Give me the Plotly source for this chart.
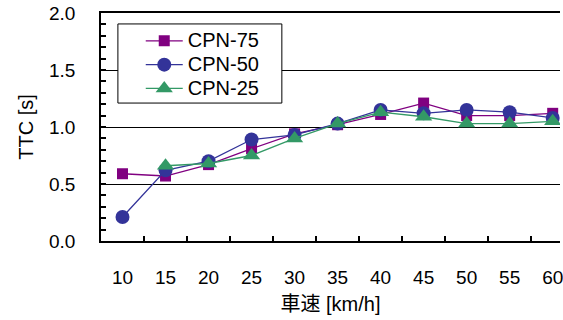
import plotly.graph_objects as go

speeds = ["10", "15", "20", "25", "30", "35", "40", "45", "50", "55", "60"]
cpn75 = [0.59, 0.57, 0.67, 0.81, 0.94, 1.02, 1.11, 1.21, 1.10, 1.10, 1.12]
cpn50 = [0.21, 0.62, 0.70, 0.89, 0.93, 1.03, 1.15, 1.12, 1.15, 1.13, 1.08]
cpn25 = [None, 0.66, 0.68, 0.75, 0.90, 1.03, 1.13, 1.09, 1.03, 1.03, 1.05]

FONT = "Liberation Sans, Arial, Noto Sans CJK JP"

fig = go.Figure()
series = [
    ("CPN-75", cpn75, "#800080", "square", 11),
    ("CPN-50", cpn50, "#333399", "circle", 14),
    ("CPN-25", cpn25, "#339966", "triangle-up", 15),
]
for name, ys, col, sym, sz in series:
    fig.add_trace(go.Scatter(
        x=list(range(len(speeds))), y=ys,
        name=f"<span style='font-size:20px'>{name}</span>",
        mode="lines+markers",
        line=dict(color=col, width=1.3),
        marker=dict(symbol=sym, size=sz, color=col),
    ))

# legend frame (paper coordinates)
fig.add_shape(type="rect", xref="paper", yref="paper",
              x0=0.0368, x1=0.394, y0=0.605, y1=0.952,
              fillcolor="white", line=dict(color="black", width=1), layer="above")

fig.update_layout(
    width=563, height=320,
    margin=dict(l=101, r=0, t=13, b=79),
    plot_bgcolor="white", paper_bgcolor="white",
    font=dict(family=FONT, size=19, color="black"),
    showlegend=True,
    legend=dict(
        x=0.0866, y=0.952, xanchor="left", yanchor="top",
        bgcolor="rgba(0,0,0,0)", borderwidth=0,
        font=dict(size=16), tracegroupgap=0, itemwidth=37,
    ),
    xaxis=dict(
        range=[-0.5, 10.17],
        tickmode="array", tickvals=list(range(len(speeds))), ticktext=speeds,
        showline=True, linecolor="black", linewidth=1.5, mirror=True,
        showgrid=False, zeroline=False,
        ticks="inside", ticklen=0, tickcolor="white",
        minor=dict(tick0=-0.5, dtick=1, ticks="inside", ticklen=5,
                   tickcolor="black", tickwidth=1.5, showgrid=False),
        ticklabelstandoff=18, ticklabeloverflow="allow",
        title=dict(text="車速 [km/h]", standoff=10, font=dict(size=20)),
    ),
    yaxis=dict(
        range=[0, 2.0], dtick=0.5, tickformat=".1f",
        showline=True, linecolor="black", linewidth=1.5,
        showgrid=True, gridcolor="black", gridwidth=1,
        zeroline=False,
        ticks="inside", ticklen=5, tickcolor="black", tickwidth=1.5,
        minor=dict(dtick=0.1, ticks="inside", ticklen=5, tickcolor="black",
                   tickwidth=1.5, showgrid=False),
        ticklabelstandoff=20,
        title=dict(text="TTC [s]", standoff=10, font=dict(size=20)),
    ),
)

fig.write_html("out.html")
